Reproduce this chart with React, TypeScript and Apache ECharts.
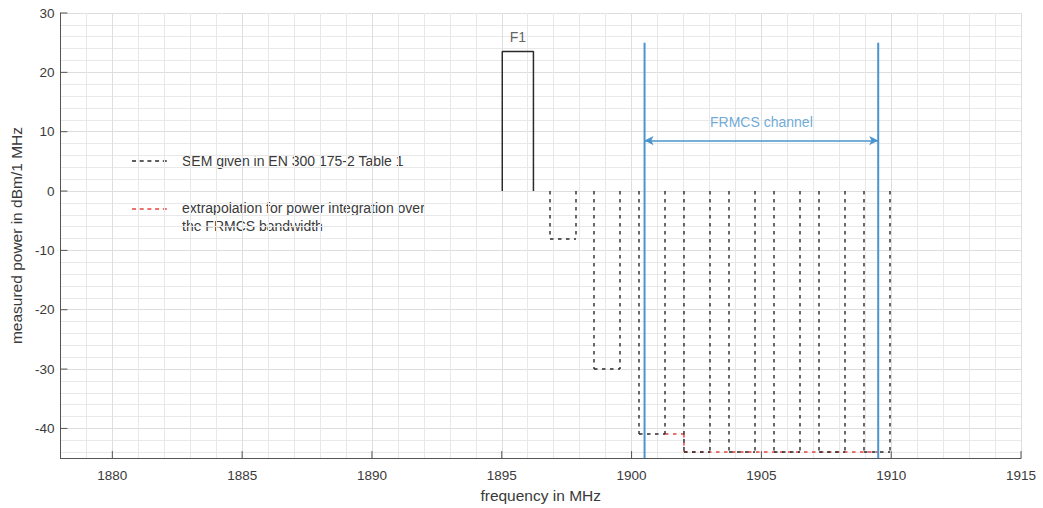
import React, { useEffect, useRef } from 'react';
import * as echarts from 'echarts';

// ---- axis ranges & tick labels ----
const xMin = 1878;
const xMax = 1915;
const yMin = -45;
const yMax = 30;
const xTickLabels = [1880, 1885, 1890, 1895, 1900, 1905, 1910, 1915];
const yTickLabels = [-40, -30, -20, -10, 0, 10, 20, 30];

// ---- F1 carrier (solid black) ----
const f1X = [1895.02, 1895.02, 1896.22, 1896.22];
const f1Y = [0, 23.5, 23.5, 0];
const f1LabelX = 1895.62;

// ---- SEM given in EN 300 175-2 Table 1 (black dashed) ----
const semLeft = [1896.85, 1898.57, 1900.3, 1902.03, 1903.76, 1905.48, 1907.21, 1908.94];
const semRight = [1897.85, 1899.57, 1901.3, 1903.03, 1904.76, 1906.48, 1908.21, 1909.94];
const semTop = 0;
const semLevel = [-8, -30, -41, -44, -44, -44, -44, -44];

// ---- extrapolation for power integration (red dashed) ----
const extraX = [1901.3, 1902.03, 1902.03, 1909.5];
const extraY = [-41, -41, -44, -44];

// ---- FRMCS channel (blue) ----
const channelEdges = [1900.5, 1909.5];
const channelTop = 25;
const channelArrowLevel = 8.5;
const channelLabelX = 1905;
const channelLabel = 'FRMCS channel';

const FONT = '"Liberation Sans", Arial, Helvetica, sans-serif';
const TEXT = '#3a3a3a';
const BLUE = '#4a95cf';
const RED = '#e2453f';
const BLACK = '#2a2a2a';
const GRID_MAJOR = '#dedede';
const GRID_MINOR = '#e8e8e8';
const SEM_DASH = [3.5, 4.5];

// custom series drawing dashed straight segments [x1, y1, x2, y2] through the axes' scales
const dashedSegments = (segs: number[][], color: string, z: number) => ({
  type: 'custom',
  silent: true,
  data: segs,
  encode: { x: [0, 2], y: [1, 3] },
  z,
  renderItem: (_p: any, api: any) => {
    const a = api.coord([api.value(0), api.value(1)]);
    const b = api.coord([api.value(2), api.value(3)]);
    return {
      type: 'line',
      shape: { x1: Math.round(a[0]), y1: Math.round(a[1]), x2: Math.round(b[0]), y2: Math.round(b[1]) },
      style: { stroke: color, lineWidth: 1.4, lineDash: SEM_DASH, fill: null },
    };
  },
});

export default function App() {
  const ref = useRef<HTMLDivElement>(null);

  useEffect(() => {
    if (!ref.current) return;
    const chart = echarts.init(ref.current, null, { renderer: 'svg' });

    const series: any[] = [];

    // red extrapolation (underneath the SEM)
    const redSegs: number[][] = [];
    for (let i = 0; i < extraX.length - 1; i++) {
      redSegs.push([extraX[i], extraY[i], extraX[i + 1], extraY[i + 1]]);
    }
    series.push(dashedSegments(redSegs, RED, 3));

    // black SEM
    const semSegs: number[][] = [];
    semLeft.forEach((l, i) => {
      const r = semRight[i];
      const b = semLevel[i];
      semSegs.push([l, semTop, l, b]);
      semSegs.push([l, b, r, b]);
      semSegs.push([r, semTop, r, b]);
    });
    series.push(dashedSegments(semSegs, BLACK, 4));

    // F1
    series.push({
      type: 'line',
      symbol: 'none',
      silent: true,
      data: f1X.map((x, i) => [x, f1Y[i]]),
      lineStyle: { color: BLACK, width: 1.5 },
      z: 4,
    });

    // F1 label
    series.push({
      type: 'scatter',
      symbolSize: 0,
      silent: true,
      data: [[f1LabelX, Math.max(...f1Y)]],
      label: {
        show: true,
        position: 'top',
        distance: 8,
        formatter: 'F1',
        color: TEXT,
        fontSize: 14,
        fontFamily: FONT,
      },
    });

    // Blue channel edges
    channelEdges.forEach((x, i) => {
      const s: any = {
        type: 'line',
        symbol: 'none',
        silent: true,
        data: [
          [x, channelTop],
          [x, yMin],
        ],
        lineStyle: { color: BLUE, width: 2 },
        z: 5,
      };
      if (i === 0) {
        s.markLine = {
          silent: true,
          symbol: ['arrow', 'arrow'],
          symbolSize: [7, 9],
          label: { show: false },
          lineStyle: { color: BLUE, width: 1.5, type: 'solid' },
          data: [
            [
              { coord: [channelEdges[0], channelArrowLevel] },
              { coord: [channelEdges[1], channelArrowLevel] },
            ],
          ],
        };
      }
      series.push(s);
    });

    // FRMCS channel label
    series.push({
      type: 'scatter',
      symbolSize: 0,
      silent: true,
      data: [[channelLabelX, channelArrowLevel]],
      label: {
        show: true,
        position: 'top',
        distance: 12,
        formatter: channelLabel,
        color: BLUE,
        fontSize: 14,
        fontFamily: FONT,
      },
    });

    // Major tick marks (inward) along the x axis
    series.push({
      type: 'custom',
      silent: true,
      data: xTickLabels.map((v) => [v, yMin]),
      encode: { x: 0, y: 1 },
      renderItem: (_p: any, api: any) => {
        const pt = api.coord([api.value(0), api.value(1)]);
        return {
          type: 'line',
          shape: { x1: pt[0], y1: pt[1], x2: pt[0], y2: pt[1] - 7 },
          style: { stroke: '#555', lineWidth: 1 },
        };
      },
      z: 6,
    });
    // Major tick marks (inward) along the y axis
    series.push({
      type: 'custom',
      silent: true,
      data: yTickLabels.map((v) => [xMin, v]),
      encode: { x: 0, y: 1 },
      renderItem: (_p: any, api: any) => {
        const pt = api.coord([api.value(0), api.value(1)]);
        return {
          type: 'line',
          shape: { x1: pt[0], y1: pt[1], x2: pt[0] + 7, y2: pt[1] },
          style: { stroke: '#555', lineWidth: 1 },
        };
      },
      z: 6,
    });

    // grid line colours: x every 1 MHz (major every 5), y every 2 dB (major every 10)
    const xGridColors = [GRID_MINOR, GRID_MINOR, GRID_MAJOR, GRID_MINOR, GRID_MINOR];
    const T = 'rgba(0,0,0,0)';
    const yGridColors = [T, GRID_MINOR, T, GRID_MINOR, T, GRID_MAJOR, T, GRID_MINOR, T, GRID_MINOR];

    const isTick = (v: number, list: number[]) =>
      Math.abs(v - Math.round(v)) < 1e-6 && list.includes(Math.round(v));

    chart.setOption({
      animation: false,
      backgroundColor: '#ffffff',
      textStyle: { fontFamily: FONT },
      grid: { left: 53, right: 22, top: 13, bottom: 48, containLabel: false },
      xAxis: {
        type: 'value',
        min: xMin,
        max: xMax,
        interval: 1,
        name: 'frequency in MHz',
        nameLocation: 'middle',
        nameGap: 26,
        nameTextStyle: { color: TEXT, fontSize: 15.5, fontFamily: FONT },
        axisLine: { show: true, onZero: false, lineStyle: { color: '#555', width: 1 } },
        axisTick: { show: false },
        axisLabel: {
          color: TEXT,
          fontSize: 13.5,
          fontFamily: FONT,
          margin: 10,
          formatter: (v: number) => (isTick(v, xTickLabels) ? String(Math.round(v)) : ''),
        },
        splitLine: { show: true, showMinLine: true, showMaxLine: true, lineStyle: { color: xGridColors, width: 1 } },
      },
      yAxis: {
        type: 'value',
        min: yMin,
        max: yMax,
        interval: 1,
        name: 'measured power in dBm/1 MHz',
        nameLocation: 'middle',
        nameGap: 30,
        nameTextStyle: { color: TEXT, fontSize: 15.5, fontFamily: FONT },
        axisLine: { show: true, onZero: false, lineStyle: { color: '#555', width: 1 } },
        axisTick: { show: false },
        axisLabel: {
          color: TEXT,
          fontSize: 13.5,
          fontFamily: FONT,
          margin: 6,
          formatter: (v: number) => (isTick(v, yTickLabels) ? String(Math.round(v)) : ''),
        },
        splitLine: { show: true, showMinLine: true, showMaxLine: true, lineStyle: { color: yGridColors, width: 1 } },
      },
      graphic: [
        {
          type: 'line',
          silent: true,
          shape: { x1: 132, y1: 161, x2: 170, y2: 161 },
          style: { stroke: BLACK, lineWidth: 1.4, lineDash: [4, 3.7] },
        },
        {
          type: 'text',
          silent: true,
          x: 182,
          y: 161,
          style: {
            text: 'SEM given in EN 300 175-2 Table 1',
            fill: TEXT,
            font: `14px ${FONT}`,
            verticalAlign: 'middle',
            align: 'left',
          },
        },
        {
          type: 'line',
          silent: true,
          shape: { x1: 132, y1: 209, x2: 170, y2: 209 },
          style: { stroke: RED, lineWidth: 1.4, lineDash: [4, 3.7] },
        },
        {
          type: 'text',
          silent: true,
          x: 182,
          y: 208,
          style: {
            text: 'extrapolation for power integration over',
            fill: TEXT,
            font: `14px ${FONT}`,
            verticalAlign: 'middle',
            align: 'left',
          },
        },
        {
          type: 'text',
          silent: true,
          x: 182,
          y: 226,
          style: {
            text: 'the FRMCS bandwidth',
            fill: TEXT,
            font: `14px ${FONT}`,
            verticalAlign: 'middle',
            align: 'left',
          },
        },
      ],
      series,
    });

    return () => chart.dispose();
  }, []);

  return (
    <div
      ref={ref}
      style={{ position: 'absolute', left: 0, top: 0, width: 1043, height: 508, background: '#fff' }}
    />
  );
}
